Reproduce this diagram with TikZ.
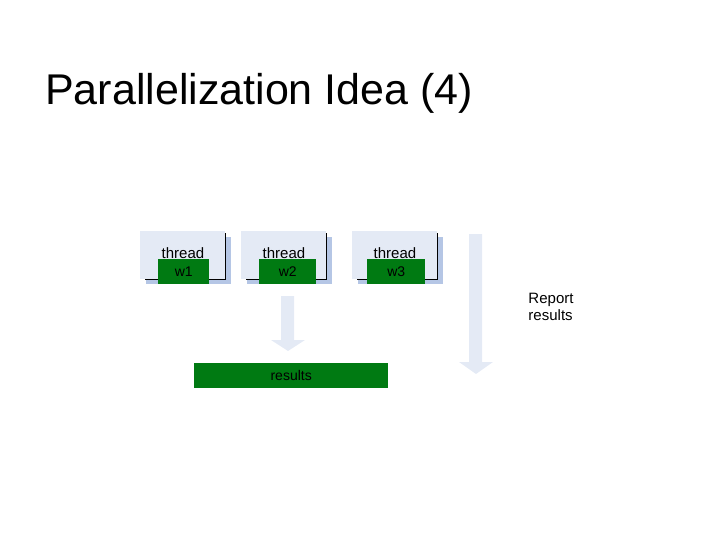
\documentclass[tikz,border=0pt]{standalone}
\usepackage{fontspec}
\setmainfont{Liberation Sans}
\definecolor{facec}{HTML}{E4EAF5}
\definecolor{bevc}{HTML}{B5C6E5}
\definecolor{grnc}{HTML}{007A12}
\begin{document}
\begin{tikzpicture}[x=1pt,y=-1pt,
  face/.style={fill=facec,draw=none},
  bevel/.style={fill=bevc,draw=none},
  grn/.style={fill=grnc,draw=none,inner sep=0pt,anchor=north west},
  arr/.style={fill=facec,draw=none}]
\useasboundingbox (0,0) rectangle (720,540);
\node[anchor=base west,inner sep=0pt,font=\fontsize{43}{45}\selectfont] (title) at (45,105) {Parallelization Idea (4)};
\foreach \n/\x/\g/\gw in {1/140/158/51,2/241/259/57,3/352/367/58}{
  \fill[bevel] (\x+6,237) -- (\x+91,237) -- (\x+91,284) -- (\x+6,284) -- cycle;
  \fill[face] (\x,231) rectangle (\x+85,279);
  \draw[black] (\x+5,279) -- (\x+85,279) -- (\x+85,233);
  \node[font=\fontsize{15}{15}\selectfont] (t\n) at (\x+43,253) {thread};
  \node[grn,minimum width=\gw,minimum height=25,text=black,font=\fontsize{14}{14}\selectfont] (w\n) at (\g,259) {w\n};
}
\fill[arr] (281,296) -- (294,296) -- (294,340) -- (305,340) -- (288,351) -- (271,340) -- (281,340) -- cycle;
\fill[arr] (469,234) -- (482,234) -- (482,362) -- (493,362) -- (476,374) -- (459,362) -- (469,362) -- cycle;
\node[grn,minimum width=194,minimum height=25,text=black,font=\fontsize{14}{14}\selectfont] (res) at (194,363) {results};
\node[align=left,font=\fontsize{15}{17}\selectfont] (rep) at (551,307) {Report\\results};
\end{tikzpicture}
\end{document}
